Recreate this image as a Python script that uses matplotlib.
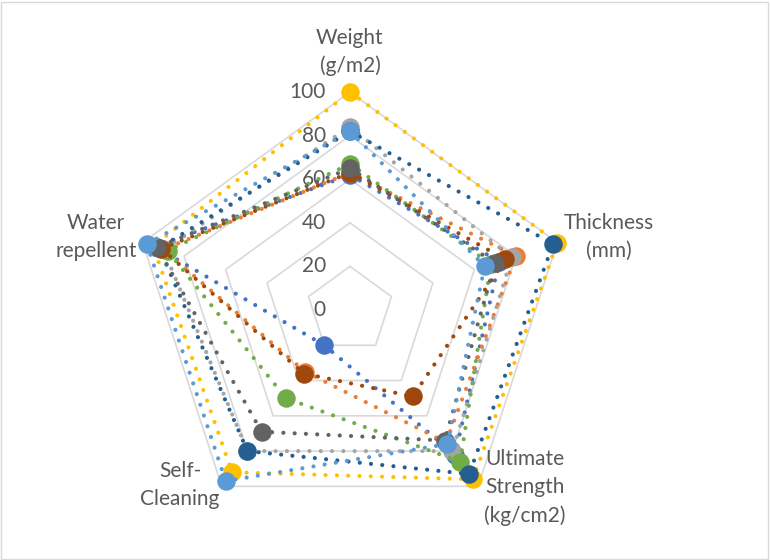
import numpy as np
import matplotlib
matplotlib.use("Agg")
import matplotlib.pyplot as plt
from matplotlib.patches import Rectangle

plt.rcParams['font.family'] = ['Lato', 'DejaVu Sans']

categories = ["Weight\n(g/m2)", "Thickness\n(mm)", "Ultimate\nStrength\n(kg/cm2)",
              "Self-\nCleaning", "Water\nrepellent"]
ticks = [0, 20, 40, 60, 80, 100]

# series values: Weight, Thickness, Ultimate Strength, Self-Cleaning, Water repellent
s1 = [62, 72, 82, 20, 94]
s2 = [63, 80, 75, 35, 90]
s3 = [84, 78, 80, 80, 90]
s4 = [100, 100, 96, 92, 95]
s5 = [82, 65, 76, 97, 98]
s6 = [67, 68, 86, 50, 88]
s7 = [82, 98, 93, 80, 92]
s8 = [63, 75, 49, 36, 91]
s9 = [65, 70, 74, 69, 93]

series = [s1, s2, s3, s4, s5, s6, s7, s8, s9]
colors = ["#4472C4", "#ED7D31", "#A5A5A5", "#FFC000", "#5B9BD5",
          "#70AD47", "#255E91", "#9E480E", "#636363"]
zorders = [3, 3, 3, 4, 9, 5, 6, 6, 7]

fig = plt.figure(figsize=(7.7, 5.6), dpi=100)
fig.patches.append(Rectangle((0.001, 0.002), 0.997, 0.995, transform=fig.transFigure,
                             fill=False, edgecolor="#D9D9D9", linewidth=1))

ax = fig.add_axes([0.1714, 0.0571, 0.5662, 0.7786], projection="polar")
ax.set_theta_offset(np.pi / 2)
ax.set_theta_direction(-1)
ax.set_ylim(0, 100)
ax.grid(False)
ax.spines['polar'].set_visible(False)
ax.set_xticks([])
ax.set_yticks([])
ax.patch.set_alpha(0)

n = len(categories)
angles = np.arange(n) * 2 * np.pi / n
closed = np.concatenate([angles, angles[:1]])

# pentagon gridlines
for t in ticks[1:]:
    ax.plot(closed, [t] * (n + 1), color="#D9D9D9", lw=1.2, zorder=1, clip_on=False)

# value labels along the vertical axis
for t in ticks:
    ax.annotate(str(t), xy=(0, t), xytext=(-24, 0), textcoords="offset pixels",
                ha="right", va="center", fontsize=15, color="#595959")

for vals, c, z in zip(series, colors, zorders):
    v = np.array(vals + vals[:1], dtype=float)
    ax.plot(closed, v, color=c, lw=3.0, linestyle=(0, (0.01, 2.7)),
            dash_capstyle="round", zorder=z, clip_on=False)
    ax.plot(angles, vals, linestyle="none", marker="o", markersize=12.3,
            color=c, zorder=z + 0.5, clip_on=False)

# category labels
offsets = [(0, 40, "center", "center"), (6, 6, "left", "center"),
           (6, -1, "left", "center"), (-2, 1, "right", "center"),
           (-6, 6, "right", "center")]
for a, lab, (dx, dy, ha, va) in zip(angles, categories, offsets):
    ax.annotate(lab, xy=(a, 100), xytext=(dx, dy), textcoords="offset pixels",
                ha=ha, va=va, multialignment="center", fontsize=15,
                color="#595959", linespacing=1.5, annotation_clip=False)

fig.savefig("out.png", dpi=100)
